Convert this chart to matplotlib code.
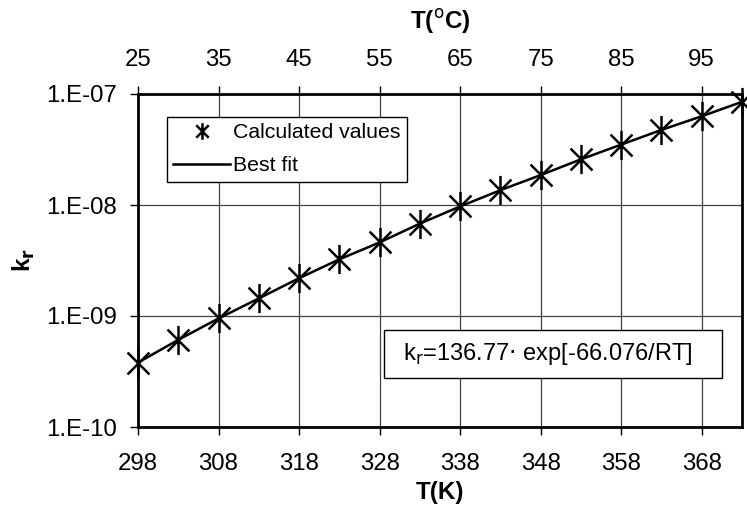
import numpy as np
import matplotlib.pyplot as plt
from matplotlib.path import Path
from matplotlib.patches import Rectangle

plt.rcParams['font.family'] = ['Liberation Sans', 'DejaVu Sans']

# temperature in K and rate constant
T_K = [298, 303, 308, 313, 318, 323, 328, 333, 338, 343, 348, 353, 358, 363, 368, 373]
k_calc = [3.8e-10, 6.1e-10, 9.5e-10, 1.44e-9, 2.19e-9, 3.24e-9, 4.6e-9, 6.8e-9,
          9.7e-9, 1.36e-8, 1.86e-8, 2.58e-8, 3.5e-8, 4.75e-8, 6.3e-8, 8.5e-8]
k_fit = k_calc

xticks_K = [298, 308, 318, 328, 338, 348, 358, 368]
xticks_C = [25, 35, 45, 55, 65, 75, 85, 95]
yticks = [1e-10, 1e-9, 1e-8, 1e-7]
ytick_labels = ['1.E-10', '1.E-09', '1.E-08', '1.E-07']

# asterisk marker: vertical bar plus an X
star = Path([(0, -1), (0, 1), (-0.75, -0.75), (0.75, 0.75), (-0.75, 0.75), (0.75, -0.75)],
            [Path.MOVETO, Path.LINETO, Path.MOVETO, Path.LINETO, Path.MOVETO, Path.LINETO])

fig = plt.figure(figsize=(7.47, 5.07), dpi=100)
ax = fig.add_axes([138/747, 1-427/507, 604/747, 333/507])

ax.plot(T_K, k_fit, color='black', lw=1.8, label='Best fit', zorder=3)
ax.plot(T_K, k_calc, ls='none', marker=star, ms=21, mew=1.8, mec='black', color='black',
        label='Calculated values', zorder=4, clip_on=False)

ax.set_yscale('log')
ax.set_xlim(298, 373)
ax.set_ylim(1e-10, 1e-7)
ax.set_xticks(xticks_K)
ax.set_yticks(yticks)
ax.set_yticklabels(ytick_labels)
ax.minorticks_off()
ax.tick_params(labelsize=17.3, direction='out', length=6, width=1)
ax.tick_params(axis='x', pad=13)
ax.tick_params(axis='y', pad=9)
ax.grid(True, color='0.25', lw=0.9)

for s in ax.spines.values():
    s.set_linewidth(2)

ax.set_xlabel('T(K)', fontsize=17.5, fontweight='bold')
ax.xaxis.set_label_coords(0.5, (427-492)/333)
ax.xaxis.label.set_va('center')
ax.set_ylabel('k$_\\mathbf{r}$', fontsize=17.5, fontweight='bold')
ax.yaxis.set_label_coords((24-138)/604, 0.5)
ax.yaxis.label.set_va('center')

sec = ax.secondary_xaxis('top', functions=(lambda k: k - 273, lambda c: c + 273))
sec.set_xticks(xticks_C)
sec.tick_params(labelsize=17.3, direction='out', length=6, width=1, pad=10.5)
sec.set_xlabel('T($^\\mathrm{o}$C)', fontsize=17.5, fontweight='bold')
sec.xaxis.set_label_coords(0.5, (427-21)/333, transform=ax.transAxes)
sec.xaxis.label.set_va('center')

h, l = ax.get_legend_handles_labels()
leg = ax.legend(h[::-1], l[::-1], loc='upper left', bbox_to_anchor=(0.048, 0.931),
                borderaxespad=0, fontsize=15.3, fancybox=False, framealpha=1,
                edgecolor='black', handlelength=2.65, handletextpad=0.15,
                borderpad=0.3, labelspacing=0.65)
leg.get_frame().set_linewidth(1)
leg.legend_handles[0].set_markersize(12)

# equation box
ax.add_patch(Rectangle((0.407, 0.147), 0.56, 0.144, transform=ax.transAxes,
                       fc='white', ec='black', lw=1, zorder=5))
ax.text(0.678, 0.219, 'k$_\\mathrm{r}$=136.77$\\cdot$ exp[-66.076/RT]', transform=ax.transAxes,
        ha='center', va='center', fontsize=17, zorder=6)

fig.savefig('out.png', dpi=100)
